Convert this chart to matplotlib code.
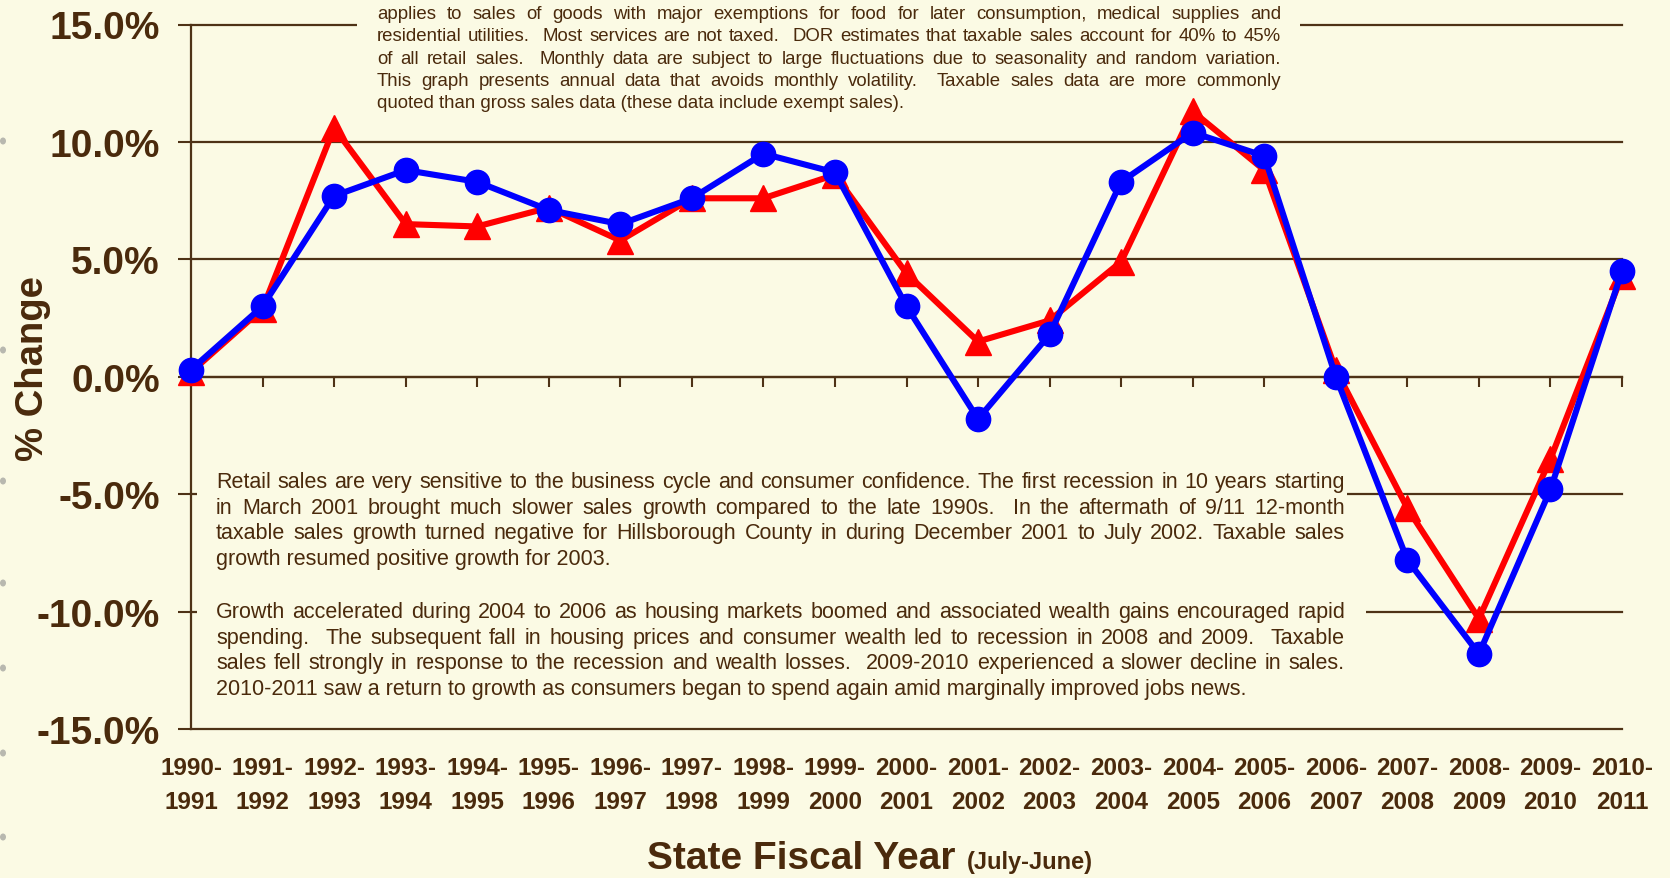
import matplotlib
matplotlib.use('Agg')
import matplotlib.pyplot as plt
from matplotlib.patches import Rectangle, Ellipse
import matplotlib.transforms as mtransforms
import numpy as np

# ---------------- data ----------------
categories = ["1990-\n1991", "1991-\n1992", "1992-\n1993", "1993-\n1994", "1994-\n1995",
              "1995-\n1996", "1996-\n1997", "1997-\n1998", "1998-\n1999", "1999-\n2000",
              "2000-\n2001", "2001-\n2002", "2002-\n2003", "2003-\n2004", "2004-\n2005",
              "2005-\n2006", "2006-\n2007", "2007-\n2008", "2008-\n2009", "2009-\n2010",
              "2010-\n2011"]
series_red = [0.2, 2.9, 10.6, 6.5, 6.4, 7.2, 5.8, 7.6, 7.6, 8.6,
              4.4, 1.5, 2.4, 4.9, 11.3, 8.8, 0.3, -5.6, -10.3, -3.5, 4.3]
series_blue = [0.3, 3.0, 7.7, 8.8, 8.3, 7.1, 6.5, 7.6, 9.5, 8.7,
               3.0, -1.8, 1.8, 8.3, 10.4, 9.4, 0.0, -7.8, -11.8, -4.8, 4.5]
yticks = [-15, -10, -5, 0, 5, 10, 15]
ytick_labels = ["-15.0%", "-10.0%", "-5.0%", "0.0%", "5.0%", "10.0%", "15.0%"]

top_note = [
    "applies to sales of goods with major exemptions for food for later consumption, medical supplies and",
    "residential utilities.  Most services are not taxed.  DOR estimates that taxable sales account for 40% to 45%",
    "of all retail sales.  Monthly data are subject to large fluctuations due to seasonality and random variation.",
    "This graph presents annual data that avoids monthly volatility.  Taxable sales data are more commonly",
    "quoted than gross sales data (these data include exempt sales).",
]
bottom_note_1 = [
    "Retail sales are very sensitive to the business cycle and consumer confidence. The first recession in 10 years starting",
    "in March 2001 brought much slower sales growth compared to the late 1990s.  In the aftermath of 9/11 12-month",
    "taxable sales growth turned negative for Hillsborough County in during December 2001 to July 2002. Taxable sales",
    "growth resumed positive growth for 2003.",
]
bottom_note_2 = [
    "Growth accelerated during 2004 to 2006 as housing markets boomed and associated wealth gains encouraged rapid",
    "spending.  The subsequent fall in housing prices and consumer wealth led to recession in 2008 and 2009.  Taxable",
    "sales fell strongly in response to the recession and wealth losses.  2009-2010 experienced a slower decline in sales.",
    "2010-2011 saw a return to growth as consumers began to spend again amid marginally improved jobs news.",
]

# ---------------- style ----------------
BG = '#FBFAE4'
TEXT = '#4A2A0C'
LINE = '#4E3216'
FONT = 'Liberation Sans'
plt.rcParams['font.family'] = [FONT, 'DejaVu Sans']

W, H = 1670, 879
fig = plt.figure(figsize=(W / 100, H / 100), dpi=100, facecolor=BG)


def fx(px):
    return px / W


def fy(py):
    return 1 - py / H


ax = fig.add_axes([fx(191), fy(730), (1622 - 191) / W, (730 - 25.5) / H])
ax.set_facecolor('none')

x = np.arange(len(categories))
ax.set_xlim(0, len(categories) - 1)
ax.set_ylim(-15, 15)
ax.set_yticks(yticks)
ax.set_yticklabels(ytick_labels, fontsize=28, fontweight='bold', color=TEXT)
ax.set_xticks(x)
ax.tick_params(axis='y', direction='out', length=9.4, width=1.5, color=LINE, pad=13)
ax.tick_params(axis='x', direction='out', length=7, width=1.5, color=LINE, labelbottom=False)

ax.yaxis.grid(True, color=LINE, linewidth=1.6)
ax.set_axisbelow(True)
for gl in ax.get_ygridlines():
    gl.set_clip_on(False)
for s in ['top', 'right']:
    ax.spines[s].set_visible(False)
ax.spines['left'].set_color(LINE)
ax.spines['left'].set_linewidth(1.6)
ax.spines['bottom'].set_position(('data', 0))
ax.spines['bottom'].set_color(LINE)
ax.spines['bottom'].set_linewidth(1.6)

# data lines
ax.plot(x, series_red, color='#FF0000', lw=4.4, marker='^', ms=18.5,
        zorder=5, clip_on=False)
ax.plot(x, series_blue, color='#0000FF', lw=4.4, marker='o', ms=17.5,
        zorder=6, clip_on=False)

# category labels (two lines each)
bt = mtransforms.blended_transform_factory(ax.transData, fig.transFigure)
for xi, lab in zip(x, categories):
    l1, l2 = lab.split('\n')
    ax.text(xi, fy(775), l1, transform=bt, ha='center', va='baseline',
            fontsize=17.5, fontweight='bold', color=TEXT, clip_on=False)
    ax.text(xi, fy(809), l2, transform=bt, ha='center', va='baseline',
            fontsize=17.5, fontweight='bold', color=TEXT, clip_on=False)

# axis titles
fig.text(fx(33), fy(369), "% Change", rotation=90, ha='center', va='center',
         fontsize=27.5, fontweight='bold', color=TEXT)
fig.text(fx(647), fy(869), "State Fiscal Year", ha='left', va='baseline',
         fontsize=28, fontweight='bold', color=TEXT)
fig.text(fx(967), fy(869), "(July-June)", ha='left', va='baseline',
         fontsize=17, fontweight='bold', color=TEXT)

# note boxes (cover gridlines)
for (x0, y0, x1, y1) in [(357, -5, 1300, 125), (197, 440, 1347, 578), (197, 586, 1366, 712)]:
    ax.add_patch(Rectangle((fx(x0), fy(y1)), fx(x1) - fx(x0), fy(y0) - fy(y1),
                           transform=fig.transFigure, facecolor=BG, edgecolor='none',
                           zorder=1.5, clip_on=False))

renderer = fig.canvas.get_renderer()


def measure(word, fs):
    t = fig.text(0, 0, word, fontsize=fs, color=TEXT)
    w = t.get_window_extent(renderer).width
    t.remove()
    return w


def draw_justified(lines, x0, x1, baselines, fs, last_left=True):
    for i, (line, yb) in enumerate(zip(lines, baselines)):
        if last_left and i == len(lines) - 1:
            ax.text(fx(x0), fy(yb), line, transform=fig.transFigure, fontsize=fs,
                    color=TEXT, ha='left', va='baseline', zorder=2, clip_on=False)
            continue
        tokens = line.split(' ')
        words = []
        spaces_before = []
        cnt = 0
        for tok in tokens:
            if tok == '':
                cnt += 1
                continue
            spaces_before.append(cnt if words else 0)
            words.append(tok)
            cnt = 1
        widths = [measure(w, fs) for w in words]
        units = sum(spaces_before)
        unit = (x1 - x0 - sum(widths)) / max(units, 1)
        xp = x0
        for w, wd, sb in zip(words, widths, spaces_before):
            xp += sb * unit
            ax.text(fx(xp), fy(yb), w, transform=fig.transFigure, fontsize=fs,
                    color=TEXT, ha='left', va='baseline', zorder=2, clip_on=False)
            xp += wd


draw_justified(top_note, 377, 1281, [19, 41.3, 63.7, 86, 108.4], 13.4)
draw_justified(bottom_note_1, 216, 1345, [488.5, 514, 539.5, 565], 15.5)
draw_justified(bottom_note_2, 216, 1345, [618.3, 643.8, 669.4, 695], 15.5)

# faint dots on the left edge
for yd in [142, 351, 482, 584, 669, 754, 838]:
    fig.add_artist(Ellipse((fx(3), fy(yd)), 6 / W, 7 / H, transform=fig.transFigure,
                           facecolor='#8c8c8c', edgecolor='none', alpha=0.6))

fig.savefig('out.png', dpi=100, facecolor=BG)
